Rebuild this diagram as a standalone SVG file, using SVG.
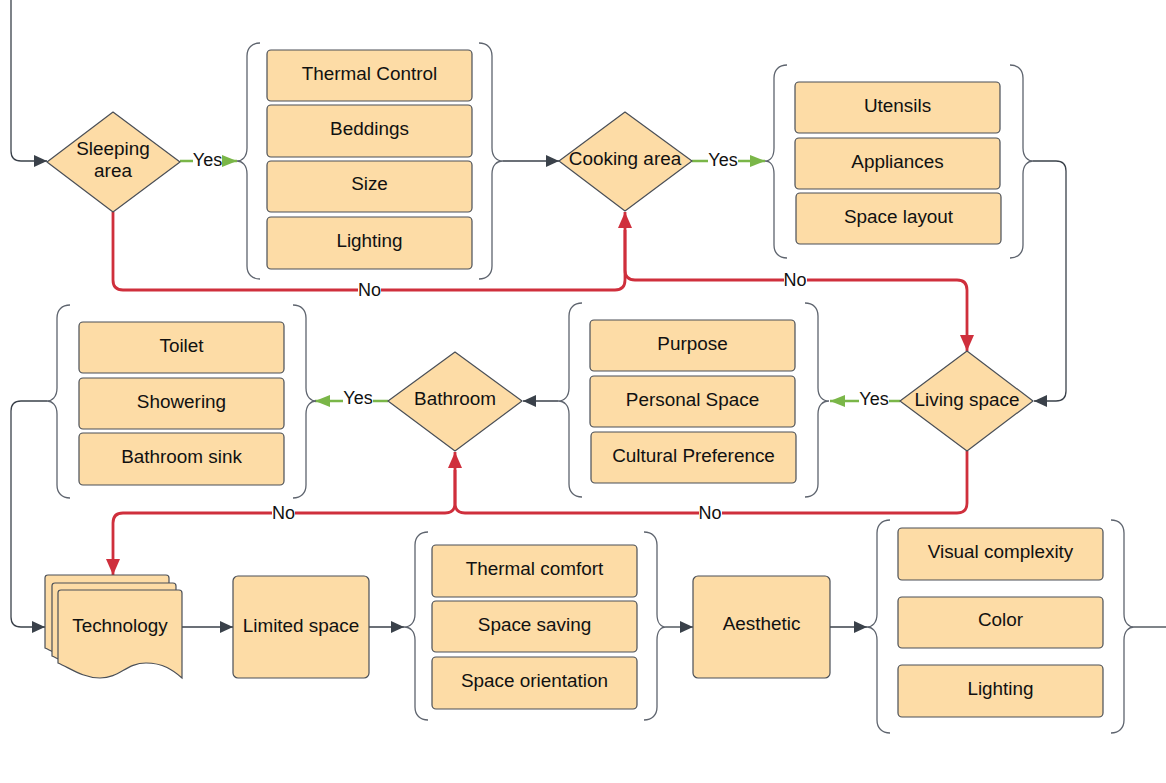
<svg xmlns="http://www.w3.org/2000/svg" width="1166" height="783" viewBox="0 0 1166 783">
<style>
.box{fill:#fddca6;stroke:#4a4f57;stroke-width:1.2}
.t{font-family:"Liberation Sans",Arial,sans-serif;font-size:18.9px;fill:#111;text-anchor:middle}
.lbl{font-family:"Liberation Sans",Arial,sans-serif;font-size:18px;fill:#111;text-anchor:middle}
.brace{fill:none;stroke:#5e646e;stroke-width:1.3}
.g{fill:none;stroke:#3a414a;stroke-width:1.3}
.gr{fill:none;stroke:#7ab648;stroke-width:2.5}
.rd{fill:none;stroke:#cf2f3c;stroke-width:2.8;stroke-linejoin:round}
.bg{fill:#fff}
</style>
<defs>
<marker id="ag" markerUnits="userSpaceOnUse" markerWidth="14" markerHeight="12" refX="13" refY="6" orient="auto"><path d="M0,0 L13,6 L0,12 Z" fill="#3a414a"/></marker>
<marker id="agr" markerUnits="userSpaceOnUse" markerWidth="16" markerHeight="12" refX="15" refY="6" orient="auto"><path d="M0,0 L15,6 L0,12 Z" fill="#7ab648"/></marker>
<marker id="ar" markerUnits="userSpaceOnUse" markerWidth="17" markerHeight="14" refX="16" refY="7" orient="auto"><path d="M0,0 L16,7 L0,14 Z" fill="#cf2f3c"/></marker>
<path id="doc" d="M3,0 H121 Q124,0 124,3 V88 C115,80 105,73 88,73 C68,73 62,88 42,88 C25,88 12,78 0,73 V3 Q0,0 3,0 Z"/>
</defs>

<g id="connectors">
<path class="g" d="M11,0 V151 Q11,161 21,161 H47" marker-end="url(#ag)"/>
<path class="gr" d="M180,161 H237" marker-end="url(#agr)"/>
<path class="g" d="M503,161 H559" marker-end="url(#ag)"/>
<path class="gr" d="M692,161 H765" marker-end="url(#agr)"/>
<path class="g" d="M1033,161 H1056 Q1066,161 1066,171 V391 Q1066,401 1056,401 H1034" marker-end="url(#ag)"/>
<path class="gr" d="M900,401 H830" marker-end="url(#agr)"/>
<path class="g" d="M558,401 H523" marker-end="url(#ag)"/>
<path class="gr" d="M388,401 H315" marker-end="url(#agr)"/>
<path class="g" d="M47,401 H21 Q11,401 11,411 V617 Q11,627 21,627 H45" marker-end="url(#ag)"/>
<path class="g" d="M182,627 H233" marker-end="url(#ag)"/>
<path class="g" d="M369,627 H404" marker-end="url(#ag)"/>
<path class="g" d="M666,627 H693" marker-end="url(#ag)"/>
<path class="g" d="M830,627 H867" marker-end="url(#ag)"/>
<path class="g" d="M1134,627 H1166"/>
<path class="rd" d="M113,212 V280 Q113,290 123,290 H615 Q625,290 625,280 V212" marker-end="url(#ar)"/>
<path class="rd" d="M625,230 V270 Q625,280 635,280 H957 Q967,280 967,290 V351" marker-end="url(#ar)"/>
<path class="rd" d="M967,451 V503 Q967,513 957,513 H465 Q455,513 455,503 V452" marker-end="url(#ar)"/>
<path class="rd" d="M455,470 V503 Q455,513 445,513 H123 Q113,513 113,523 V575" marker-end="url(#ar)"/>
<rect class="bg" x="193" y="150" width="29" height="20"/><text class="lbl" x="207.5" y="166">Yes</text>
<rect class="bg" x="708" y="150" width="30" height="20"/><text class="lbl" x="723" y="166">Yes</text>
<rect class="bg" x="859" y="390" width="30" height="20"/><text class="lbl" x="874" y="405">Yes</text>
<rect class="bg" x="343" y="390" width="30" height="20"/><text class="lbl" x="358" y="404">Yes</text>
<rect class="bg" x="358" y="280" width="23" height="18"/><text class="lbl" x="369.5" y="296">No</text>
<rect class="bg" x="784" y="270" width="23" height="18"/><text class="lbl" x="795" y="286">No</text>
<rect class="bg" x="272" y="503" width="23" height="18"/><text class="lbl" x="283.5" y="519">No</text>
<rect class="bg" x="699" y="503" width="23" height="18"/><text class="lbl" x="710" y="519">No</text>
</g>

<g id="braces">
<path class="brace" d="M260,43 C252,43 247,48 247,56 V148 C247,157 242,161 237,161 C242,161 247,165 247,174 V266 C247,274 252,279 260,279"/>
<path class="brace" d="M479,43 C487,43 492,48 492,56 V148 C492,157 497,161 503,161 C497,161 492,165 492,174 V266 C492,274 487,279 479,279"/>
<path class="brace" d="M787,65 C779,65 774,70 774,78 V148 C774,157 770,161 765,161 C770,161 774,165 774,174 V245 C774,253 779,258 787,258"/>
<path class="brace" d="M1010,65 C1018,65 1023,70 1023,78 V148 C1023,157 1028,161 1033,161 C1028,161 1023,165 1023,174 V245 C1023,253 1018,258 1010,258"/>
<path class="brace" d="M582,303 C574,303 569,308 569,316 V388 C569,397 564,401 558,401 C564,401 569,405 569,414 V484 C569,492 574,497 582,497"/>
<path class="brace" d="M805,303 C813,303 818,308 818,316 V388 C818,397 823,401 829,401 C823,401 818,405 818,414 V484 C818,492 813,497 805,497"/>
<path class="brace" d="M70,305 C62,305 57,310 57,318 V388 C57,397 52,401 47,401 C52,401 57,405 57,414 V485 C57,493 62,498 70,498"/>
<path class="brace" d="M293,305 C301,305 306,310 306,318 V388 C306,397 311,401 316,401 C311,401 306,405 306,414 V485 C306,493 301,498 293,498"/>
<path class="brace" d="M428,532 C420,532 415,537 415,545 V614 C415,623 410,627 404,627 C410,627 415,631 415,640 V707 C415,715 420,720 428,720"/>
<path class="brace" d="M644,532 C652,532 657,537 657,545 V614 C657,623 661,627 666,627 C661,627 657,631 657,640 V707 C657,715 652,720 644,720"/>
<path class="brace" d="M890,520 C882,520 877,525 877,533 V614 C877,623 872,627 867,627 C872,627 877,631 877,640 V720 C877,728 882,733 890,733"/>
<path class="brace" d="M1111,520 C1119,520 1124,525 1124,533 V614 C1124,623 1129,627 1134,627 C1129,627 1124,631 1124,640 V720 C1124,728 1119,733 1111,733"/>
</g>

<g id="sleeping-area"><path class="box" stroke-linejoin="round" d="M113,112 L180,162 L113,212 L47,162 Z"/><text class="t" x="113" y="155">Sleeping</text><text class="t" x="113" y="177">area</text></g>
<g id="thermal-control"><rect class="box" x="267" y="50" width="205" height="51" rx="4"/><text class="t" x="369.5" y="80">Thermal Control</text></g>
<g id="beddings"><rect class="box" x="267" y="105" width="205" height="52" rx="4"/><text class="t" x="369.5" y="135">Beddings</text></g>
<g id="size"><rect class="box" x="267" y="161" width="205" height="51" rx="4"/><text class="t" x="369.5" y="190">Size</text></g>
<g id="lighting-1"><rect class="box" x="267" y="217" width="205" height="52" rx="4"/><text class="t" x="369.5" y="247">Lighting</text></g>

<g id="cooking-area"><path class="box" stroke-linejoin="round" d="M625,112 L692,161 L625,211 L559,161 Z"/><text class="t" x="625" y="165">Cooking area</text></g>
<g id="utensils"><rect class="box" x="795" y="82" width="205" height="51" rx="4"/><text class="t" x="897.5" y="112">Utensils</text></g>
<g id="appliances"><rect class="box" x="795" y="138" width="205" height="51" rx="4"/><text class="t" x="897.5" y="168">Appliances</text></g>
<g id="space-layout"><rect class="box" x="796" y="193" width="205" height="51" rx="4"/><text class="t" x="898.5" y="223">Space layout</text></g>

<g id="living-space"><path class="box" stroke-linejoin="round" d="M967,351 L1033,401 L967,451 L900,401 Z"/><text class="t" x="967" y="406">Living space</text></g>
<g id="purpose"><rect class="box" x="590" y="320" width="205" height="51" rx="4"/><text class="t" x="692.5" y="350">Purpose</text></g>
<g id="personal-space"><rect class="box" x="590" y="376" width="205" height="51" rx="4"/><text class="t" x="692.5" y="406">Personal Space</text></g>
<g id="cultural-preference"><rect class="box" x="591" y="432" width="205" height="51" rx="4"/><text class="t" x="693.5" y="462">Cultural Preference</text></g>

<g id="bathroom"><path class="box" stroke-linejoin="round" d="M455,352 L522,401 L455,451 L388,401 Z"/><text class="t" x="455" y="405">Bathroom</text></g>
<g id="toilet"><rect class="box" x="79" y="322" width="205" height="51" rx="4"/><text class="t" x="181.5" y="352">Toilet</text></g>
<g id="showering"><rect class="box" x="79" y="378" width="205" height="51" rx="4"/><text class="t" x="181.5" y="408">Showering</text></g>
<g id="bathroom-sink"><rect class="box" x="79" y="433" width="205" height="52" rx="4"/><text class="t" x="181.5" y="463">Bathroom sink</text></g>

<g id="technology">
<use href="#doc" class="box" x="45" y="575"/>
<use href="#doc" class="box" x="52" y="583"/>
<use href="#doc" class="box" x="58" y="590"/>
<text class="t" x="120" y="632">Technology</text></g>
<g id="limited-space"><rect class="box" x="233" y="576" width="136" height="102" rx="5"/><text class="t" x="301" y="632">Limited space</text></g>
<g id="thermal-comfort"><rect class="box" x="432" y="545" width="205" height="52" rx="4"/><text class="t" x="534.5" y="575">Thermal comfort</text></g>
<g id="space-saving"><rect class="box" x="432" y="601" width="205" height="51" rx="4"/><text class="t" x="534.5" y="631">Space saving</text></g>
<g id="space-orientation"><rect class="box" x="432" y="657" width="205" height="52" rx="4"/><text class="t" x="534.5" y="687">Space orientation</text></g>
<g id="aesthetic"><rect class="box" x="693" y="576" width="137" height="102" rx="5"/><text class="t" x="761.5" y="630">Aesthetic</text></g>
<g id="visual-complexity"><rect class="box" x="898" y="528" width="205" height="52" rx="4"/><text class="t" x="1000.5" y="558">Visual complexity</text></g>
<g id="color"><rect class="box" x="898" y="597" width="205" height="51" rx="4"/><text class="t" x="1000.5" y="626">Color</text></g>
<g id="lighting-2"><rect class="box" x="898" y="665" width="205" height="52" rx="4"/><text class="t" x="1000.5" y="695">Lighting</text></g>
</svg>
